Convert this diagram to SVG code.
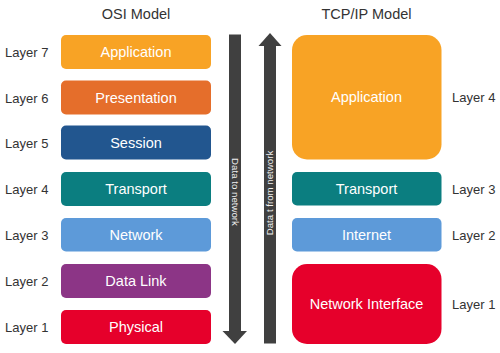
<svg xmlns="http://www.w3.org/2000/svg" width="500" height="353" viewBox="0 0 500 353">
<style>
.t{font-family:"Liberation Sans",Arial,sans-serif;font-size:14.5px;fill:#333333;text-anchor:middle}
.lb{font-family:"Liberation Sans",Arial,sans-serif;font-size:13px;fill:#333333}
.bx{font-family:"Liberation Sans",Arial,sans-serif;font-size:14.5px;fill:#ffffff;text-anchor:middle}
.ar{font-family:"Liberation Sans",Arial,sans-serif;font-size:9.7px;fill:#f0f0f0;text-anchor:middle}
.arrow{fill:#404040}
</style>
<rect width="500" height="353" fill="#ffffff"/>
<text class="t" x="136" y="19">OSI Model</text>
<text class="t" x="366.5" y="19">TCP/IP Model</text>

<g id="osi-application"><rect x="61" y="35" width="150" height="34" rx="5" fill="#F8A325"/><text class="bx" x="136" y="57">Application</text><text class="lb" x="5" y="57">Layer 7</text></g>
<g id="osi-presentation"><rect x="61" y="80.5" width="150" height="34" rx="5" fill="#E56E2B"/><text class="bx" x="136" y="102.5">Presentation</text><text class="lb" x="5" y="102.5">Layer 6</text></g>
<g id="osi-session"><rect x="61" y="125.5" width="150" height="34" rx="5" fill="#22568F"/><text class="bx" x="136" y="147.5">Session</text><text class="lb" x="5" y="147.5">Layer 5</text></g>
<g id="osi-transport"><rect x="61" y="172" width="150" height="34" rx="5" fill="#0B7E80"/><text class="bx" x="136" y="194">Transport</text><text class="lb" x="5" y="194">Layer 4</text></g>
<g id="osi-network"><rect x="61" y="218" width="150" height="33.5" rx="5" fill="#5D9AD9"/><text class="bx" x="136" y="240">Network</text><text class="lb" x="5" y="240">Layer 3</text></g>
<g id="osi-datalink"><rect x="61" y="264" width="150" height="34" rx="5" fill="#8C3586"/><text class="bx" x="136" y="286">Data Link</text><text class="lb" x="5" y="286">Layer 2</text></g>
<g id="osi-physical"><rect x="61" y="310" width="150" height="34" rx="5" fill="#E6002B"/><text class="bx" x="136" y="332">Physical</text><text class="lb" x="5" y="332">Layer 1</text></g>

<g id="tcp-application"><rect x="292" y="35" width="149.5" height="124.5" rx="15" fill="#F8A325"/><text class="bx" x="366.5" y="102">Application</text><text class="lb" x="452" y="102">Layer 4</text></g>
<g id="tcp-transport"><rect x="292" y="172" width="149.5" height="33.5" rx="5" fill="#0B7E80"/><text class="bx" x="366.5" y="194">Transport</text><text class="lb" x="452" y="194">Layer 3</text></g>
<g id="tcp-internet"><rect x="292" y="218" width="149.5" height="33.5" rx="5" fill="#5D9AD9"/><text class="bx" x="366.5" y="240">Internet</text><text class="lb" x="452" y="240">Layer 2</text></g>
<g id="tcp-network-interface"><rect x="292" y="264" width="149.5" height="80" rx="15" fill="#E6002B"/><text class="bx" x="366.5" y="309">Network Interface</text><text class="lb" x="452" y="309">Layer 1</text></g>

<g id="connectors">
<g id="arrow-down">
<rect class="arrow" x="229" y="34.5" width="12" height="297"/>
<polygon class="arrow" points="222.5,331 247,331 235,344"/>
<text class="ar" transform="translate(235,192) rotate(90)" y="3.4">Data to network</text>
</g>
<g id="arrow-up">
<rect class="arrow" x="264" y="45" width="12" height="298.5"/>
<polygon class="arrow" points="258.5,46 281.5,46 270,33"/>
<text class="ar" transform="translate(270,193) rotate(-90)" y="3.4">Data t from network</text>
</g>
</g>
</svg>
